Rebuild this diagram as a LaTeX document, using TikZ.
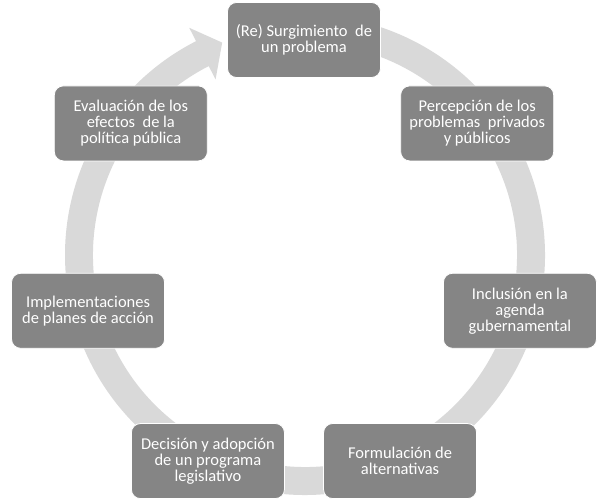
\documentclass[tikz,border=0pt]{standalone}
\usepackage{fontspec}
\setmainfont{Carlito}
\usepackage{tikz}
\usetikzlibrary{arrows.meta,positioning,calc}
\definecolor{cyclebox}{HTML}{858585}
\definecolor{cyclering}{HTML}{D9D9D9}

\begin{document}
\begin{tikzpicture}[x=1pt,y=1pt,
  cstep/.style={draw=white,line width=0.8pt,fill=cyclebox,rounded corners=9pt,
               minimum width=153pt,minimum height=75pt,align=center,
               text=white,font=\fontsize{16.5pt}{16pt}\selectfont},
  ring/.style={fill=cyclering}]
  \useasboundingbox (0,0) rectangle (612,501);
  \coordinate (c) at (304,239.5);
  \coordinate (rc) at (305,246);
  % ring with its arrow head
  \fill[ring,shift={(rc)}] (95:240pt) arc[start angle=95,end angle=-243,radius=240pt]
    -- (-243:255pt) -- (-248.7:228pt) -- (-243:197pt) -- (-243:212pt)
    arc[start angle=-243,end angle=95,radius=212pt] -- cycle;
  \node[cstep] (a) at ([shift={(90:221.5pt)}]c) {(Re) Surgimiento\ \ de\\un problema};
  \node[cstep] (b) at ([shift={(38.57:221.5pt)}]c) {Percepción de los\\problemas\ \ privados\\y públicos};
  \node[cstep] (d) at ([shift={(-12.86:221.5pt)}]c) {Inclusión en la\\agenda\\gubernamental};
  \node[cstep] (e) at ([shift={(-64.29:221.5pt)}]c) {Formulación de\\alternativas};
  \node[cstep] (f) at ([shift={(-115.71:221.5pt)}]c) {Decisión y adopción\\de un programa\\legislativo};
  \node[cstep] (g) at ([shift={(-167.14:221.5pt)}]c) {Implementaciones\\de planes de acción};
  \node[cstep] (h) at ([shift={(141.43:221.5pt)}]c) {Evaluación de los\\efectos\ \ de la\\política pública};
\end{tikzpicture}
\end{document}
